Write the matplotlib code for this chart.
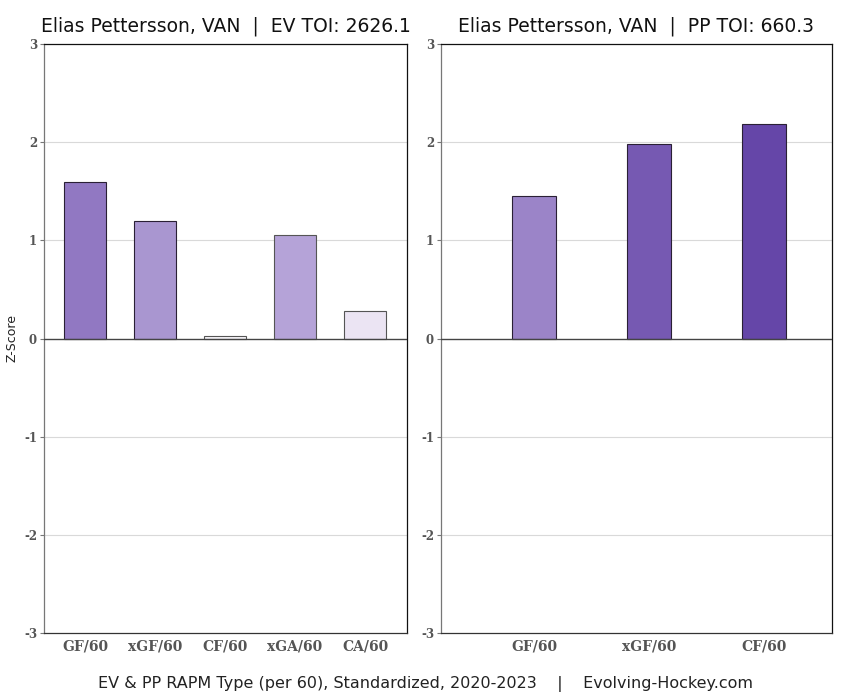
import matplotlib
matplotlib.use("Agg")
import matplotlib.pyplot as plt

player = "Elias Pettersson, VAN"
ev_toi = 2626.1
pp_toi = 660.3
ev_cats = ["GF/60", "xGF/60", "CF/60", "xGA/60", "CA/60"]
ev_vals = [1.59, 1.20, 0.03, 1.05, 0.28]
ev_colors = ["#9178c2", "#a996d0", "#f8f6fb", "#b5a3d8", "#ebe4f3"]
ev_edges = ["#2a2035", "#2a2035", "#555555", "#555555", "#555555"]
pp_cats = ["GF/60", "xGF/60", "CF/60"]
pp_vals = [1.45, 1.98, 2.18]
pp_colors = ["#9b84c8", "#7659b2", "#6546a8"]
pp_edges = ["#2a2035", "#2a2035", "#2a2035"]
footer = "EV & PP RAPM Type (per 60), Standardized, 2020-2023    |    Evolving-Hockey.com"

fig = plt.figure(figsize=(8.5, 7), dpi=100)
W, H = 850, 700
def rect(x0, y0, x1, y1):
    return [x0 / W, 1 - y1 / H, (x1 - x0) / W, (y1 - y0) / H]

ax1 = fig.add_axes(rect(44, 44, 407, 633))
ax2 = fig.add_axes(rect(441, 44, 832, 633))

def style(ax, cats, vals, colors, edges, width, xlim, title):
    x = list(range(len(cats)))
    ax.set_axisbelow(True)
    for yv in [-2, -1, 1, 2]:
        ax.axhline(yv, color="#d9d9d9", lw=0.8, zorder=0)
    ax.bar(x, vals, width=width, color=colors, edgecolor=edges, linewidth=0.8, zorder=2)
    ax.axhline(0, color="#444444", lw=1.0, zorder=3)
    ax.set_ylim(-3, 3)
    ax.set_xlim(*xlim)
    ax.set_yticks([-3, -2, -1, 0, 1, 2, 3])
    ax.set_yticklabels(["-3", "-2", "-1", "0", "1", "2", "3"],
                       family="DejaVu Serif", fontweight="bold", fontsize=8.5, color="#555555")
    ax.set_xticks(x)
    ax.set_xticklabels(cats, family="DejaVu Serif", fontweight="bold", fontsize=10, color="#555555")
    ax.tick_params(axis="y", length=3, width=0.8, color="#777777", pad=2)
    ax.tick_params(axis="x", length=0, pad=5)
    ax.spines["left"].set_color("#777777")
    ax.spines["bottom"].set_color("#333333")
    ax.spines["top"].set_color("#111111")
    ax.spines["right"].set_color("#111111")
    for s in ax.spines.values():
        s.set_linewidth(0.9)
    ax.set_title(title, fontsize=13.5, pad=9, color="#111111")

style(ax1, ev_cats, ev_vals, ev_colors, ev_edges, 0.6, (-0.59, 4.6),
      f"{player}  |  EV TOI: {ev_toi}")
style(ax2, pp_cats, pp_vals, pp_colors, pp_edges, 0.38, (-0.81, 2.59),
      f"{player}  |  PP TOI: {pp_toi}")
ax1.set_ylabel("Z-Score", fontsize=9, color="#222222", labelpad=4)

fig.text(425 / W, 1 - 684 / H, footer, ha="center", va="center", fontsize=11.5, color="#222222")

fig.savefig("out.png", dpi=100)
